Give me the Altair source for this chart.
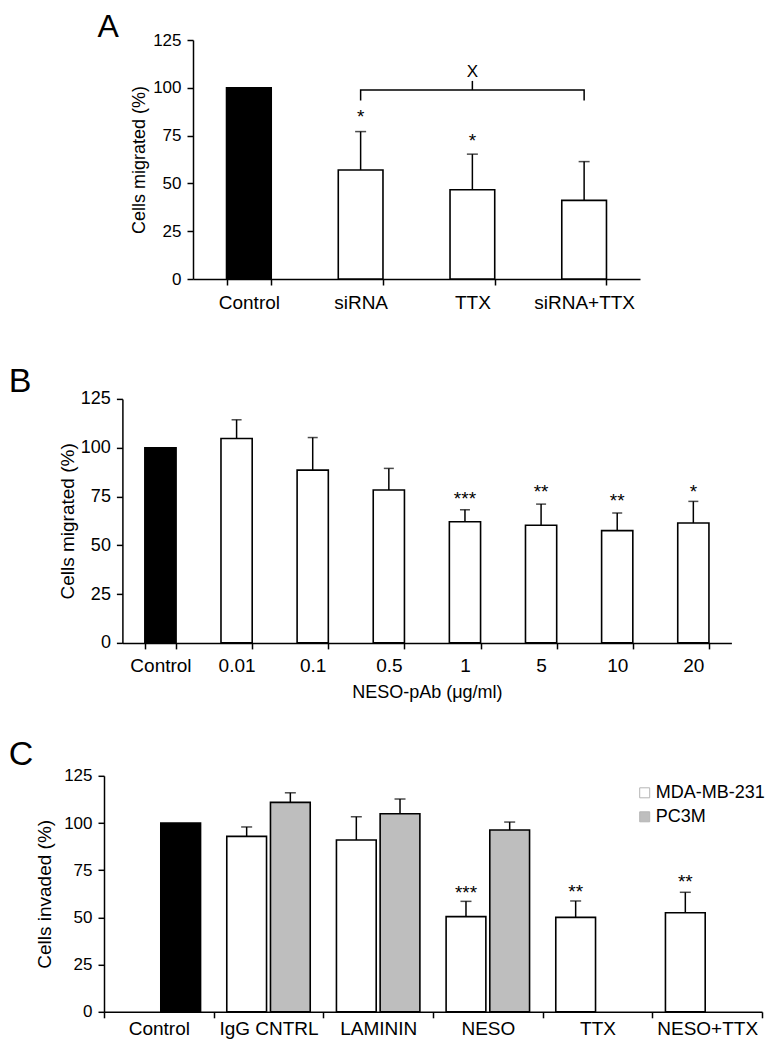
import altair as alt
import pandas as pd

FONT = "Liberation Sans"
YTICKS = [0, 25, 50, 75, 100, 125]

# ---------------- Panel A data ----------------
a_cats = ["Control", "siRNA", "TTX", "siRNA+TTX"]
a_means = [100.0, 57.0, 46.7, 41.1]
a_err_top = [None, 77.1, 65.3, 61.4]
a_fill = ["black", "white", "white", "white"]
a_stars = ["", "*", "*", ""]
a_star_y = [None, 87.2, 75.0, None]
a_bracket_cats = ["siRNA", "siRNA", "siRNA+TTX", "siRNA+TTX", "TTX", "TTX"]
a_bracket_y = [93.3, 98.9, 98.9, 93.3, 98.9, 103.6]
a_bracket_seg = ["main", "main", "main", "main", "tick", "tick"]
a_sig_cat = ["TTX"]
a_sig_y = [108.8]
a_sig_text = ["X"]

# ---------------- Panel B data ----------------
b_cats = ["Control", "0.01", "0.1", "0.5", "1", "5", "10", "20"]
b_means = [100.0, 104.7, 88.5, 78.3, 62.1, 60.3, 57.5, 61.4]
b_err_top = [None, 114.3, 105.2, 89.4, 68.2, 71.1, 66.5, 72.5]
b_fill = ["black", "white", "white", "white", "white", "white", "white", "white"]
b_stars = ["", "", "", "", "***", "**", "**", "*"]
b_star_y = [None, None, None, None, 76.4, 79.7, 75.2, 79.9]

# ---------------- Panel C data ----------------
c_cats = ["Control", "IgG CNTRL", "LAMININ", "NESO", "TTX", "NESO+TTX"]
c_series = ["MDA-MB-231", "PC3M"]
c_control = 100.0
c_mda = [None, 92.9, 91.0, 50.4, 50.0, 52.5]
c_mda_top = [None, 97.9, 103.3, 58.5, 58.7, 63.3]
c_mda_stars = ["", "", "", "***", "**", "**"]
c_mda_star_y = [None, None, None, 65.6, 66.1, 71.4]
c_pc3m = [None, 110.9, 104.9, 96.3, None, None]
c_pc3m_top = [None, 116.0, 112.7, 100.5, None, None]

# ---------------- layout (px) ----------------
# all panel origins share one x; panels A and B start their axes further right
SHIFT_A, WA, HA = 89, 447, 239
SHIFT_B, WB, HB = 18.4, 609, 244
WC, HC = 658, 236


def yenc(field, title, lsize, tsize, tpad, shift=0):
    return alt.Y(
        f"{field}:Q",
        scale=alt.Scale(domain=[0, 125], nice=False),
        axis=alt.Axis(values=YTICKS, title=title, labelFontSize=lsize,
                      titleFontSize=tsize, titlePadding=tpad, tickSize=6,
                      labelPadding=6, grid=False, offset=-shift),
    )


def xenc(cats, pin, pout, lsize, lpad, width, shift=0, title=None, tsize=18):
    ax = dict(labelAngle=0, tickBand="extent", labelFontSize=lsize,
              labelPadding=lpad, tickSize=6, grid=False, labelLimit=300)
    if title is not None:
        ax.update(title=title, titleFontSize=tsize, titlePadding=8,
                  titleFontWeight="normal")
    else:
        ax.update(title=None)
    return alt.X("cat:N", sort=cats,
                 scale=alt.Scale(domain=cats, paddingInner=pin, paddingOuter=pout,
                                 range=[shift, shift + width]),
                 axis=alt.Axis(**ax))


def letter(txt, x, y, size):
    return alt.Chart(pd.DataFrame({"t": [txt]})).mark_text(
        align="left", baseline="alphabetic", fontSize=size, font=FONT, color="black"
    ).encode(x=alt.value(x), y=alt.value(y), text="t:N")


# ================= Panel A =================
dfA = pd.DataFrame({"cat": a_cats, "val": a_means, "top": a_err_top,
                    "fill": a_fill, "star": a_stars, "sy": a_star_y})
dfA_err = dfA.dropna(subset=["top"])
dfA_star = dfA.dropna(subset=["sy"])
dfA_br = pd.DataFrame({"cat": a_bracket_cats, "val": a_bracket_y,
                       "seg": a_bracket_seg, "ord": list(range(len(a_bracket_y)))})
dfA_sig = pd.DataFrame({"cat": a_sig_cat, "val": a_sig_y, "t": a_sig_text})

xA = xenc(a_cats, 0.6, 0.3, 19, 8, WA, SHIFT_A)
yA = lambda f: yenc(f, "Cells migrated (%)", 17, 18, 4, SHIFT_A)

A_bars = alt.Chart(dfA).mark_bar(stroke="black", strokeWidth=1.6).encode(
    x=xA, y=yA("val"), fill=alt.Fill("fill:N", scale=None))
A_rule = alt.Chart(dfA_err).mark_rule(color="black", strokeWidth=1.5).encode(
    x=xA, y=yA("val"), y2="top:Q")
A_cap = alt.Chart(dfA_err).mark_tick(color="black", thickness=1.5, size=11).encode(
    x=xA, y=yA("top"))
A_star = alt.Chart(dfA_star).mark_text(fontSize=19, font=FONT, baseline="middle",
                                       dy=5, color="black").encode(
    x=xA, y=yA("sy"), text="star:N")
A_br = alt.Chart(dfA_br).mark_line(color="black", strokeWidth=1.5).encode(
    x=xA, y=yA("val"), detail="seg:N", order="ord:Q")
A_sig = alt.Chart(dfA_sig).mark_text(fontSize=17, font=FONT, baseline="middle",
                                     dy=1, color="black").encode(
    x=xA, y=yA("val"), text="t:N")
A_ext = alt.Chart(pd.DataFrame({"t": ["."]})).mark_text(
    align="left", baseline="alphabetic", fontSize=10, color="white"
).encode(x=alt.value(SHIFT_A), y=alt.value(HA + 46.9), text="t:N")

panelA = alt.layer(A_bars, A_rule, A_cap, A_star, A_br, A_sig,
                   letter("A", SHIFT_A - 95.6, -2.7, 32), A_ext
                   ).properties(width=SHIFT_A + WA, height=HA)

# ================= Panel B =================
dfB = pd.DataFrame({"cat": b_cats, "val": b_means, "top": b_err_top,
                    "fill": b_fill, "star": b_stars, "sy": b_star_y})
dfB_err = dfB.dropna(subset=["top"])
dfB_star = dfB.dropna(subset=["sy"])

xB = xenc(b_cats, 0.59, 0.295, 19, 8, WB, SHIFT_B,
          title="NESO-pAb (\u03bcg/ml)", tsize=18)
yB = lambda f: yenc(f, "Cells migrated (%)", 18, 19, 3, SHIFT_B)

B_bars = alt.Chart(dfB).mark_bar(stroke="black", strokeWidth=1.6).encode(
    x=xB, y=yB("val"), fill=alt.Fill("fill:N", scale=None))
B_rule = alt.Chart(dfB_err).mark_rule(color="black", strokeWidth=1.5).encode(
    x=xB, y=yB("val"), y2="top:Q")
B_cap = alt.Chart(dfB_err).mark_tick(color="black", thickness=1.5, size=10).encode(
    x=xB, y=yB("top"))
B_star = alt.Chart(dfB_star).mark_text(fontSize=19, font=FONT, baseline="middle",
                                       dy=5, color="black").encode(
    x=xB, y=yB("sy"), text="star:N")

panelB = alt.layer(B_bars, B_rule, B_cap, B_star,
                   letter("B", -95.3, -7.3, 34)
                   ).properties(width=SHIFT_B + WB, height=HB)

# ================= Panel C =================
rows = []
for i, c in enumerate(c_cats):
    if c_mda[i] is not None:
        rows.append({"cat": c, "series": c_series[0], "val": c_mda[i],
                     "top": c_mda_top[i], "star": c_mda_stars[i], "sy": c_mda_star_y[i]})
    if c_pc3m[i] is not None:
        rows.append({"cat": c, "series": c_series[1], "val": c_pc3m[i],
                     "top": c_pc3m_top[i], "star": "", "sy": None})
dfC = pd.DataFrame(rows)
dfC_star = dfC.dropna(subset=["sy"])
dfC_ctrl = pd.DataFrame({"cat": [c_cats[0]], "series": [c_series[1]], "val": [c_control]})

xC = xenc(c_cats, 0.0, 0.0, 19, 2, WC, 0)
xoC = alt.XOffset("series:N", scale=alt.Scale(domain=c_series, paddingInner=0.09,
                                               paddingOuter=0.3))
yC = lambda f: yenc(f, "Cells invaded (%)", 17, 19, 9, 0)

C_ctrl = alt.Chart(dfC_ctrl).mark_bar(fill="black", stroke="black", strokeWidth=1.6).encode(
    x=xC, xOffset=xoC, y=yC("val"))
C_bars = alt.Chart(dfC).mark_bar(stroke="black", strokeWidth=1.6).encode(
    x=xC, xOffset=xoC, y=yC("val"),
    fill=alt.Fill("series:N",
                  scale=alt.Scale(domain=c_series, range=["white", "#bebebe"]),
                  legend=alt.Legend(orient="none", legendX=531.7, legendY=8,
                                    title=None, symbolType="square", symbolSize=100,
                                    symbolStrokeColor="#b5b5b5", symbolStrokeWidth=1,
                                    labelFontSize=18, labelFont=FONT, labelColor="black",
                                    labelOffset=2, rowPadding=6, padding=0)))
C_rule = alt.Chart(dfC).mark_rule(color="black", strokeWidth=1.5).encode(
    x=xC, xOffset=xoC, y=yC("val"), y2="top:Q")
C_cap = alt.Chart(dfC).mark_tick(color="black", thickness=1.5, size=11).encode(
    x=xC, xOffset=xoC, y=yC("top"))
C_star = alt.Chart(dfC_star).mark_text(fontSize=19, font=FONT, baseline="middle",
                                       dy=5, color="black").encode(
    x=xC, xOffset=xoC, y=yC("sy"), text="star:N")

panelC = alt.layer(C_ctrl, C_bars, C_rule, C_cap, C_star,
                   letter("C", -95.3, -11, 34)).properties(width=WC, height=HC)

chart = alt.vconcat(panelA, panelB, panelC, spacing=35.9).resolve_scale(
    fill="independent"
).properties(
    padding={"left": 0, "top": 3, "right": 2, "bottom": 0}
).configure(font=FONT).configure_axis(
    domainColor="black", domainWidth=1.5, tickColor="black", tickWidth=1.5,
    labelColor="black", titleColor="black", labelFont=FONT, titleFont=FONT,
    titleFontWeight="normal", grid=False
).configure_view(stroke=None)

chart.save("out.html", embed_options={"renderer": "svg", "actions": False})
